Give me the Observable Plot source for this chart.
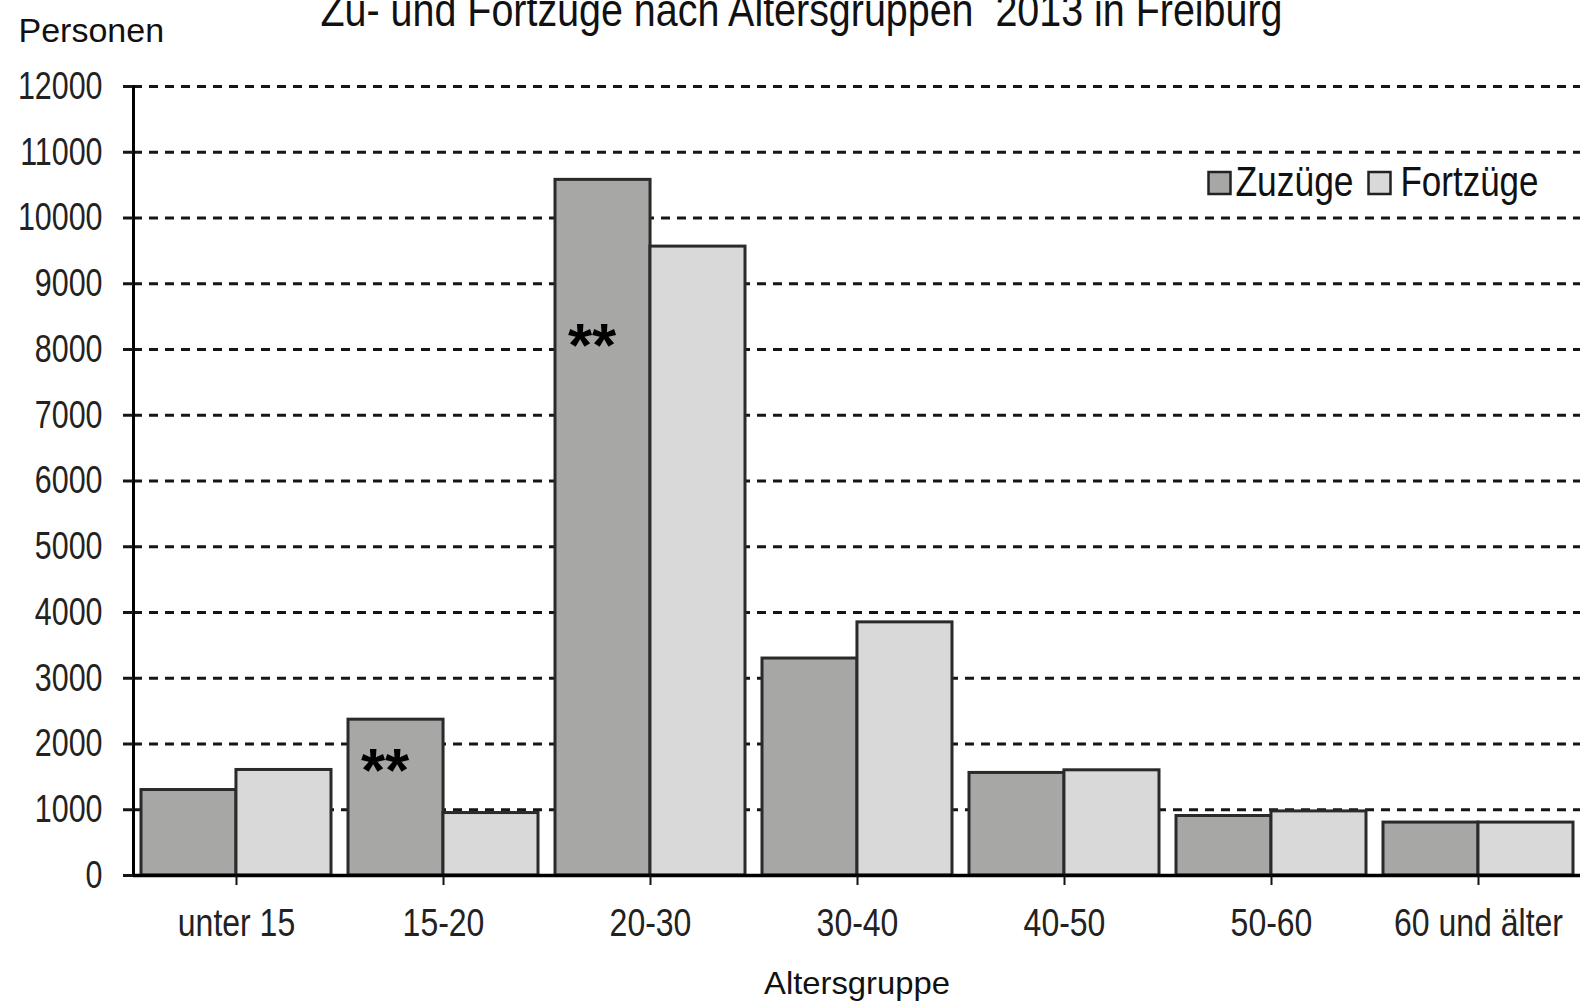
<!DOCTYPE html>
<html>
<head>
<meta charset="utf-8">
<script src="https://cdn.jsdelivr.net/npm/d3@7"></script>
<script src="https://cdn.jsdelivr.net/npm/@observablehq/plot@0.6"></script>
<style>
  html, body { margin: 0; padding: 0; background: #fff; overflow: hidden; }
</style>
</head>
<body>
<div id="chart"></div>
<script>
// ---- data ----
const groups = ["unter 15", "15-20", "20-30", "30-40", "40-50", "50-60", "60 und älter"];
const seriesNames = ["Zuzüge", "Fortzüge"];
const zuzuege = [1300, 2370, 10580, 3300, 1560, 905, 805];
const fortzuege = [1605, 950, 9565, 3850, 1600, 975, 805];
const yTicks = [0, 1000, 2000, 3000, 4000, 5000, 6000, 7000, 8000, 9000, 10000, 11000, 12000];
const titleText = "Zu- und Fortzüge nach Altersgruppen  2013 in Freiburg";
const yLabel = "Personen";
const xLabel = "Altersgruppe";
const annotGroups = ["15-20", "20-30"];
const annotValues = [1710, 8170];
const annotLabel = "**";

// ---- layout / style ----
const W = 1580, H = 1005;
const mL = 133, mR = 0, mT = 86, mB = 130;
const padIn = 0.083, padOut = 0.035;
const bw = d3.scaleBand().domain(groups).range([mL, W - mR]).paddingInner(padIn).paddingOuter(padOut).bandwidth();
const colors = ["#a7a7a5", "#d9d9d9"];
const sans = "'Liberation Sans', Arial, sans-serif";

const rows = groups.flatMap((g, i) => [
  {group: g, series: seriesNames[0], value: zuzuege[i]},
  {group: g, series: seriesNames[1], value: fortzuege[i]}
]);
const annots = annotGroups.map((g, i) => ({group: g, value: annotValues[i], label: annotLabel}));

const chart = Plot.plot({
  width: W,
  height: H,
  marginLeft: mL,
  marginRight: mR,
  marginTop: mT,
  marginBottom: mB,
  style: {fontFamily: sans, fontSize: "39px", color: "#222", background: "#fff"},
  x: {type: "band", domain: groups, paddingInner: padIn, paddingOuter: padOut, align: 0.5},
  y: {domain: [0, 12000]},
  marks: [
    Plot.gridY(yTicks, {stroke: "#161616", strokeOpacity: 1, strokeWidth: 3, strokeDasharray: "9,7"}),
    Plot.barY(rows.filter(d => d.series === seriesNames[0]), {
      x: "group", y: "value", fill: colors[0], stroke: "#2a2a2a", strokeWidth: 3, insetRight: bw / 2
    }),
    Plot.barY(rows.filter(d => d.series === seriesNames[1]), {
      x: "group", y: "value", fill: colors[1], stroke: "#2a2a2a", strokeWidth: 3, insetLeft: bw / 2
    }),
    Plot.text(annots, {
      x: "group", y: "value", text: "label", dx: -bw / 4 - 11, dy: 8,
      fontWeight: "bold", fontSize: 62, fill: "#000"
    }),
    Plot.ruleY([0], {stroke: "#000", strokeWidth: 3.5}),
    Plot.frame({anchor: "left", stroke: "#000", strokeWidth: 3}),
    Plot.axisY(yTicks, {
      className: "ax-y",
      tickSize: 10, tickPadding: 21, tickFormat: d => String(d), label: null,
      fontSize: 39, strokeWidth: 3, stroke: "#161616"
    }),
    Plot.axisX({className: "ax-x", tickSize: 10, tickPadding: 23, label: null, fontSize: 39, strokeWidth: 2, stroke: "#111"}),
    // title
    Plot.text([titleText], {
      className: "t-title",
      text: d => d, frameAnchor: "top-left", textAnchor: "start", lineAnchor: "bottom",
      dx: 320 - mL, dy: 25 - mT, fontSize: 46, fill: "#111"
    }),
    // y label
    Plot.text([yLabel], {
      text: d => d, frameAnchor: "top-left", textAnchor: "start", lineAnchor: "bottom",
      dx: 18 - mL, dy: 41 - mT, fontSize: 34, fill: "#111"
    }),
    // x label
    Plot.text([xLabel], {
      className: "t-xlabel",
      text: d => d, frameAnchor: "bottom", lineAnchor: "bottom",
      dy: 993 - (H - mB), fontSize: 32, fill: "#111"
    }),
    // legend
    Plot.dot([seriesNames[0]], {
      frameAnchor: "top-left", dx: 1219 - mL, dy: 182.5 - mT, symbol: "square", r: 12.4,
      fill: colors[0], stroke: "#222", strokeWidth: 2.5
    }),
    Plot.dot([seriesNames[1]], {
      frameAnchor: "top-left", dx: 1379 - mL, dy: 182.5 - mT, symbol: "square", r: 12.4,
      fill: colors[1], stroke: "#222", strokeWidth: 2.5
    }),
    Plot.text([seriesNames[0]], {
      className: "t-leg1",
      text: d => d, frameAnchor: "top-left", textAnchor: "start", lineAnchor: "bottom",
      dx: 1235 - mL, dy: 195 - mT, fontSize: 42, fill: "#111"
    }),
    Plot.text([seriesNames[1]], {
      className: "t-leg2",
      text: d => d, frameAnchor: "top-left", textAnchor: "start", lineAnchor: "bottom",
      dx: 1400 - mL, dy: 195 - mT, fontSize: 42, fill: "#111"
    })
  ]
});
document.getElementById("chart").appendChild(chart);

// condense text horizontally (the reference uses a narrow typeface)
function condense(selector, factor, target) {
  chart.querySelectorAll(selector).forEach(t => {
    const w = t.getComputedTextLength();
    const len = target != null ? target : w * factor;
    t.setAttribute("textLength", len);
    t.setAttribute("lengthAdjust", "spacingAndGlyphs");
  });
}
condense(".ax-y text", 0.78);
condense(".ax-x text", 0.82);
condense(".t-title text", null, 962);
condense(".t-xlabel text", null, 186);
condense(".t-leg1 text", null, 118);
condense(".t-leg2 text", null, 138);
</script>
</body>
</html>
